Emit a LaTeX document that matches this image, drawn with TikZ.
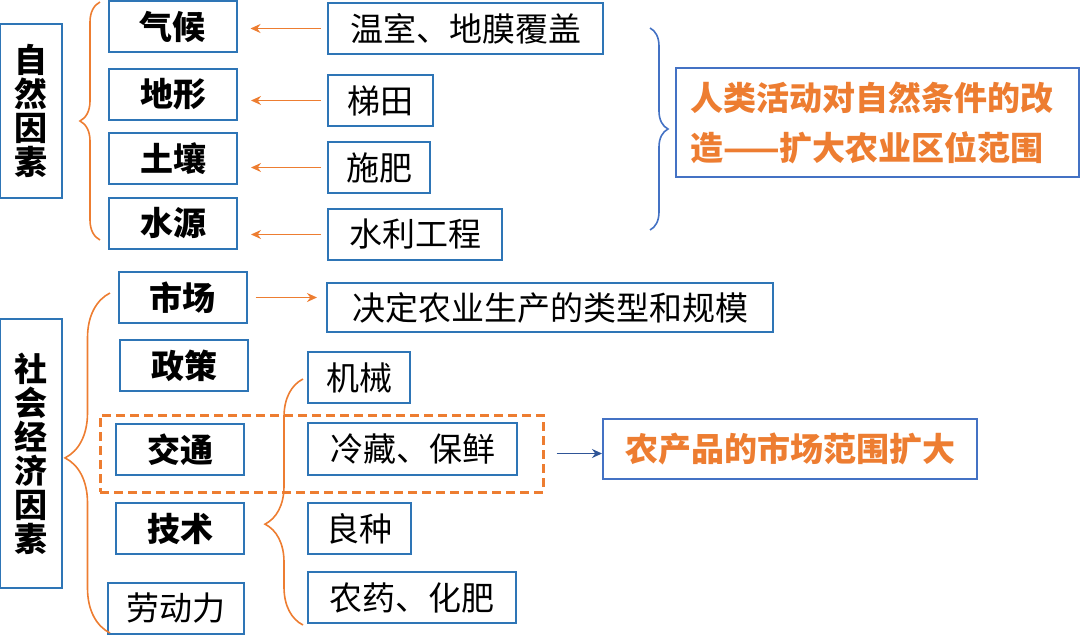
\documentclass[tikz,border=0pt]{standalone}
\usepackage{fontspec}
\setmainfont{Noto Sans CJK SC}[BoldFont={Noto Sans CJK SC Black}]
\usetikzlibrary{arrows,arrows.meta,shapes,decorations.pathreplacing}
\definecolor{kblue}{RGB}{46,117,182}
\definecolor{lblue}{RGB}{68,114,196}
\definecolor{dblue}{RGB}{47,85,151}
\definecolor{korange}{RGB}{237,125,49}
\tikzstyle{kbox}=[rectangle,draw=kblue,line width=2pt,inner sep=0pt,minimum height=51pt,font={\fontsize{33}{34}\selectfont}]
\tikzstyle{hbox}=[kbox,font={\fontsize{33}{34}\selectfont\bfseries}]
\tikzstyle{vbox}=[hbox,align=center,minimum width=62pt]
\tikzstyle{obrace}=[korange,line width=1.6pt,decorate]
\tikzstyle{oarrow}=[->,>={Stealth[length=10pt,width=9pt]},korange,line width=1.6pt]

\begin{document}
\begin{tikzpicture}[x=1pt,y=-1pt]
\useasboundingbox (0,0) rectangle (1080,635);
\node[vbox,minimum height=174pt] (zr) at (31,111) {自\\然\\因\\素};
\node[hbox,minimum width=128pt] (qh) at (172.5,26.5) {气候};
\node[hbox,minimum width=128pt] (dx) at (173,94.5) {地形};
\node[hbox,minimum width=128pt] (tr) at (173,158.5) {土壤};
\node[hbox,minimum width=128pt] (sy) at (173,223.5) {水源};
\node[kbox,minimum width=275pt] (ws) at (465.5,28.5) {温室、地膜覆盖};
\node[kbox,minimum width=105pt] (tt) at (380.5,100.5) {梯田};
\node[kbox,minimum width=102pt] (sf) at (379,167.5) {施肥};
\node[kbox,minimum width=174pt] (sl) at (415,234.5) {水利工程};
\draw[oarrow,shorten <=6pt,shorten >=13pt] (ws.west) -- (ws.west -| qh.east);
\draw[oarrow,shorten <=6pt,shorten >=13pt] (tt.west) -- (tt.west -| dx.east);
\draw[oarrow,shorten <=6pt,shorten >=13pt] (sf.west) -- (sf.west -| tr.east);
\draw[oarrow,shorten <=6pt,shorten >=13pt] (sl.west) -- (sl.west -| sy.east);
\coordinate (b1a) at (100,240); \coordinate (b1b) at (100,2);
\draw[obrace,decoration={brace,amplitude=20pt,aspect=0.5}] (b1a) -- (b1b);
\coordinate (b2a) at (650,28); \coordinate (b2b) at (650,230);
\draw[lblue,line width=1.6pt,decorate,decoration={brace,amplitude=18pt,aspect=0.5}] (b2a) -- (b2b);
\node[draw=lblue,line width=2pt,inner sep=0pt,minimum width=403pt,minimum height=109pt,text width=375pt,align=left,text=korange,font={\fontsize{33}{50}\selectfont\bfseries}] (rz) at (877.5,122.5) {人类活动对自然条件的改\\造——扩大农业区位范围};

\node[vbox,minimum height=269pt] (sh) at (31,453.5) {社\\会\\经\\济\\因\\素};
\node[hbox,minimum width=128pt] (sc) at (182.5,297.5) {市场};
\node[hbox,minimum width=128pt] (zc) at (184,365.5) {政策};
\node[hbox,minimum width=128pt] (jt) at (180,449.5) {交通};
\node[hbox,minimum width=128pt] (js) at (180,528.5) {技术};
\node[kbox,minimum width=136pt] (ld) at (176,608.5) {劳动力};
\node[kbox,minimum width=446pt,minimum height=49pt] (jd) at (550,307.5) {决定农业生产的类型和规模};
\node[kbox,minimum width=102pt] (jx) at (359,377.5) {机械};
\node[kbox,minimum width=209pt,minimum height=52pt] (lc) at (412.5,449) {冷藏、保鲜};
\node[kbox,minimum width=103pt] (lz) at (359.5,528.5) {良种};
\node[kbox,minimum width=208pt] (ny) at (412,597.5) {农药、化肥};
\node[draw=korange,line width=3pt,dash pattern=on 9pt off 5pt,minimum width=443pt,minimum height=77pt] (tp) at (321.5,453.5) {};
\node[draw=lblue,line width=2pt,inner sep=0pt,minimum width=374pt,minimum height=60pt,text=korange,font={\fontsize{33}{34}\selectfont\bfseries}] (nc) at (790,449) {农产品的市场范围扩大};
\draw[oarrow,shorten <=8pt,shorten >=9pt] (sc.east) -- (sc.east -| jd.west);
\draw[->,>={Stealth[length=10pt,width=9pt]},dblue,line width=1.6pt,shorten <=12pt] (tp.east) -- (tp.east -| nc.west);
\coordinate (b3a) at (110,633); \coordinate (b3b) at (110,293);
\draw[obrace,decoration={brace,amplitude=45pt,aspect=0.515}] (b3a) -- (b3b);
\coordinate (b4a) at (303,625); \coordinate (b4b) at (303,379);
\draw[obrace,decoration={brace,amplitude=38pt,aspect=0.41}] (b4a) -- (b4b);
\end{tikzpicture}
\end{document}
